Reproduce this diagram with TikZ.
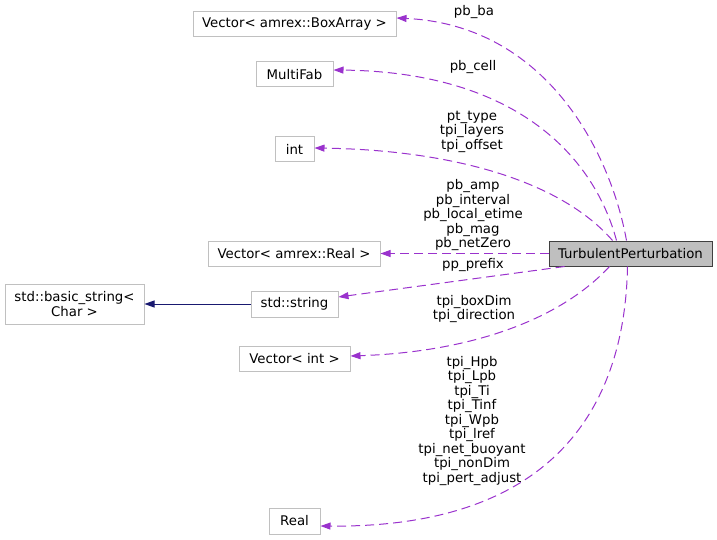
\documentclass[tikz,border=0pt]{standalone}
\usepackage{fontspec}
\setmainfont{DejaVu Sans}
\usetikzlibrary{arrows.meta,calc}
\definecolor{edgepurple}{HTML}{9A32CD}
\definecolor{boxline}{HTML}{C0C0C0}
\definecolor{tpfill}{HTML}{BFBFBF}
\definecolor{tpline}{HTML}{404040}
\definecolor{navyedge}{HTML}{191970}
\begin{document}
\begin{tikzpicture}[x=1pt,y=-1pt,
  font=\fontsize{13.3}{14.5}\selectfont,
  box/.style={draw=boxline, line width=1pt, fill=white, inner sep=0pt, align=center},
  lbl/.style={inner sep=0pt, align=center},
  memb/.style={draw=edgepurple, line width=1pt, dash pattern=on 9pt off 5pt,
    -{Triangle[length=10pt,width=7pt]}, edgepurple},
  inh/.style={draw=navyedge, line width=1pt, -{Triangle[length=10pt,width=7pt]}, navyedge}]
\useasboundingbox (0,0) rectangle (717,540);

% nodes
\node[box, minimum width=203pt, minimum height=25pt] (ba) at (294.5,24.5) {Vector< amrex::BoxArray >};
\node[box, minimum width=77pt, minimum height=25pt] (mf) at (294.5,74.5) {MultiFab};
\node[box, minimum width=39pt, minimum height=25pt] (int) at (294.5,149.5) {int};
\node[box, minimum width=172pt, minimum height=25pt] (vr) at (294,253.5) {Vector< amrex::Real >};
\node[box, minimum width=87pt, minimum height=26pt] (str) at (294.5,304) {std::string};
\node[box, minimum width=139pt, minimum height=40pt] (bs) at (74.5,304) {std::basic\_string<\\Char >};
\node[box, minimum width=111pt, minimum height=25pt] (vi) at (294.5,358.5) {Vector< int >};
\node[box, minimum width=51pt, minimum height=26pt] (re) at (294.5,521) {Real};
\node[draw=tpline, fill=tpfill, line width=1pt, inner sep=0pt, minimum width=163pt, minimum height=25pt] (tp) at (630.5,253.5) {TurbulentPerturbation};

% edges
\draw[memb] ($(tp.north west)+(78,0)$) .. controls (610,150) and (545,25) .. ($(ba.east)+(0,-6.5)$);
\draw[memb] ($(tp.north west)+(68,0)$) .. controls (595,160) and (520,72) .. ($(mf.east)+(0,-4.5)$);
\draw[memb] ($(tp.north west)+(64,0)$) .. controls (560,180) and (450,150) .. ($(int.east)+(0,-1.5)$);
\draw[memb] (tp.west) -- (vr.east);
\draw[memb] ($(tp.south west)+(16,0)$) -- ($(str.east)+(0,-7)$);
\draw[memb] ($(tp.south west)+(61,0)$) .. controls (560,320) and (470,352) .. ($(vi.east)+(0,-2.5)$);
\draw[memb] ($(tp.south west)+(79,0)$) .. controls (625,400) and (560,528) .. ($(re.east)+(0,5)$);
\draw[inh] (str.west) -- (bs.east);

% labels
\node[lbl] (l1) at (474,12) {pb\_ba};
\node[lbl] (l2) at (473,67) {pb\_cell};
\node[lbl] (l3) at (472,131.5) {pt\_type\\tpi\_layers\\tpi\_offset};
\node[lbl] (l4) at (473,215.5) {pb\_amp\\pb\_interval\\pb\_local\_etime\\pb\_mag\\pb\_netZero};
\node[lbl] (l5) at (473,265) {pp\_prefix};
\node[lbl] (l6) at (474,309) {tpi\_boxDim\\tpi\_direction};
\node[lbl] (l7) at (472,421) {tpi\_Hpb\\tpi\_Lpb\\tpi\_Ti\\tpi\_Tinf\\tpi\_Wpb\\tpi\_lref\\tpi\_net\_buoyant\\tpi\_nonDim\\tpi\_pert\_adjust};
\end{tikzpicture}
\end{document}
